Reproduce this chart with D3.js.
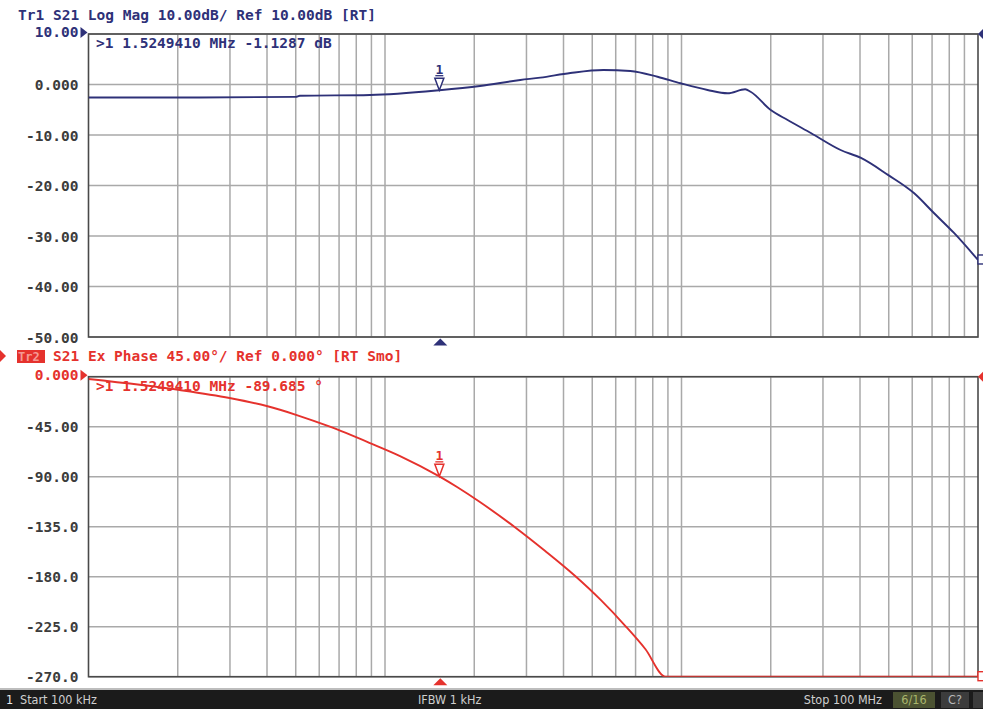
<!DOCTYPE html>
<html><head><meta charset="utf-8">
<script src="https://cdn.jsdelivr.net/npm/d3@7"></script>
<style>
body{margin:0;background:#fff;}
svg{display:block;}
.mono{font-family:"DejaVu Sans Mono",monospace;font-weight:bold;}
.bar{font-family:"DejaVu Sans Condensed","Liberation Sans Narrow","DejaVu Sans",sans-serif;font-stretch:condensed;}
</style></head><body>
<script>
// trace 1: S21 log mag (frequency in MHz, dB)
const magFreq = [0.1, 0.237, 0.5, 0.516, 0.89, 1.5249, 2.09, 2.86, 3.34, 4.22, 5.45, 6.72, 8.30, 9.93, 12.24, 14.3, 16.4, 17.1, 20.0, 22.8, 27.3, 34.4, 40.3, 49.7, 60.8, 71.0, 83.0, 100];
const magDb = [-2.57, -2.57, -2.45, -2.24, -2.08, -1.13, -0.3, 0.89, 1.35, 2.28, 2.87, 2.67, 1.54, 0.24, -1.09, -1.74, -0.95, -1.43, -5.05, -7.03, -9.6, -12.97, -14.55, -17.9, -21.5, -25.45, -29.4, -34.75];
// trace 2: S21 expanded phase (frequency in MHz, degrees)
const phFreq = [0.1, 0.203, 0.299, 0.399, 0.504, 0.652, 0.89, 1.124, 1.5249, 1.75, 2.09, 2.75, 3.47, 4.38, 5.33, 6.47, 7.55, 8.83, 100];
const phDeg = [-2.1, -12, -19.2, -26.4, -34.5, -45, -59.7, -71.4, -89.7, -99.3, -112.8, -135.7, -156.9, -179.4, -200.7, -224.4, -245.1, -270, -270];

const magTicks = [10, 0, -10, -20, -30, -40, -50];
const magTickLabels = ["10.00", "0.000", "-10.00", "-20.00", "-30.00", "-40.00", "-50.00"];
const phTicks = [0, -45, -90, -135, -180, -225, -270];
const phTickLabels = ["0.000", "-45.00", "-90.00", "-135.0", "-180.0", "-225.0", "-270.0"];

const markerFreq = 1.524941;
const markerMag = -1.1287;
const markerPh = -89.685;

const navy = "#2e3178", red = "#e5322d", grid = "#a9a9a9", frame = "#4a4a4a";

const svg = d3.select("body").append("svg").attr("width", 983).attr("height", 709);

const x = d3.scaleLog().domain([0.1, 100]).range([88.5, 978]);
const yMag = d3.scaleLinear().domain([-50, 10]).range([337, 34]);
const yPh = d3.scaleLinear().domain([-270, 0]).range([676.7, 376.7]);

const gridFreq = x.ticks().filter(f => f > 0.1 && f < 100);

function panel(y, ticks, labels, freq, vals, color, refColor, mVal, readout, clipId) {
	const top = y.range()[1], bot = y.range()[0];
	const g = svg.append("g");
	g.append("defs").append("clipPath").attr("id", clipId)
		.append("rect").attr("x", x(0.1)).attr("y", top).attr("width", x(100) - x(0.1)).attr("height", bot - top);
	g.selectAll(".vg").data(gridFreq).join("line")
		.attr("x1", d => x(d)).attr("x2", d => x(d)).attr("y1", top).attr("y2", bot)
		.attr("stroke", grid).attr("stroke-width", 1.5);
	g.selectAll(".hg").data(ticks).join("line")
		.attr("x1", x(0.1)).attr("x2", x(100)).attr("y1", d => y(d)).attr("y2", d => y(d))
		.attr("stroke", grid).attr("stroke-width", 1.5);
	g.append("rect").attr("x", x(0.1)).attr("y", top).attr("width", x(100) - x(0.1)).attr("height", bot - top)
		.attr("fill", "none").attr("stroke", frame).attr("stroke-width", 1.6);

	const ax = g.append("g").attr("transform", "translate(" + x(0.1) + ",0)")
		.call(d3.axisLeft(y).tickValues(ticks).tickFormat((d, i) => labels[i]).tickSize(0).tickPadding(10));
	ax.select(".domain").remove();
	ax.selectAll("text").attr("class", "mono").attr("font-size", 14.5).attr("fill", "#3c3c3c")
		.attr("dy", "0.35em");
	ax.selectAll("text").filter((d, i) => i === 0).attr("fill", refColor).attr("dy", "0.2em");

	// reference arrow on left
	g.append("path").attr("d", "M" + (x(0.1) - 8) + "," + (top - 7) + "l7,5.5l-7,5.5z").attr("fill", refColor);
	// right edge ref triangle
	g.append("path").attr("d", "M983," + (top - 5) + "l-5,5l5,5z").attr("fill", refColor);

	const line = d3.line().x((d, i) => x(freq[i])).y(d => y(d)).curve(d3.curveMonotoneX);
	g.append("path").datum(vals).attr("d", line).attr("clip-path", "url(#" + clipId + ")")
		.attr("fill", "none").attr("stroke", color).attr("stroke-width", 1.9);

	// marker readout
	g.append("text").attr("class", "mono").attr("x", 96).attr("y", top + 14).attr("font-size", 14.5)
		.attr("fill", color).text(readout);

	// marker 1 symbol
	const mx = x(markerFreq), my = y(mVal);
	g.append("path").attr("d", "M" + mx + "," + my + "l-4.5,-12h9z").attr("fill", "#fff")
		.attr("stroke", color).attr("stroke-width", 1.5);
	g.append("line").attr("x1", mx - 4).attr("x2", mx + 4).attr("y1", my - 14.5).attr("y2", my - 14.5)
		.attr("stroke", color).attr("stroke-width", 1.3);
	g.append("text").attr("class", "mono").attr("x", mx).attr("y", my - 16).attr("text-anchor", "middle")
		.attr("font-size", 13).attr("fill", color).text("1");
	// stimulus marker under panel
	g.append("path").attr("d", "M" + (mx + 1) + "," + (bot + 1.5) + "l7,7h-14z").attr("fill", color);
	// trace end marker
	const ey = y(vals[vals.length - 1]);
	g.append("rect").attr("x", 978).attr("y", ey - 5).attr("width", 6).attr("height", 9)
		.attr("fill", "#fff").attr("stroke", color).attr("stroke-width", 1.4);
}

panel(yMag, magTicks, magTickLabels, magFreq, magDb, navy, navy, markerMag,
	">1 1.5249410 MHz -1.1287 dB", "c1");
panel(yPh, phTicks, phTickLabels, phFreq, phDeg, red, red, markerPh,
	">1 1.5249410 MHz -89.685 °", "c2");

// channel headers
svg.append("text").attr("class", "mono").attr("x", 18).attr("y", 20).attr("font-size", 14.5)
	.attr("fill", navy).text("Tr1 S21 Log Mag 10.00dB/ Ref 10.00dB [RT]");
svg.append("path").attr("d", "M0,350l6,6l-6,6z").attr("fill", red);
svg.append("rect").attr("x", 17).attr("y", 350).attr("width", 28).attr("height", 13).attr("fill", red);
svg.append("text").attr("class", "mono").attr("x", 18).attr("y", 361).attr("font-size", 12)
	.attr("fill", "#f59a94").text("Tr2");
svg.append("text").attr("class", "mono").attr("x", 53).attr("y", 361).attr("font-size", 14.5)
	.attr("fill", red).text("S21 Ex Phase 45.00°/ Ref 0.000° [RT Smo]");

// status bar
svg.append("rect").attr("x", 0).attr("y", 688).attr("width", 983).attr("height", 2).attr("fill", "#bdbdbd");
svg.append("rect").attr("x", 0).attr("y", 690).attr("width", 983).attr("height", 19).attr("fill", "#1b1b1b");
const bar = svg.append("g").attr("class", "bar").attr("font-size", 12.5).attr("fill", "#cfcfcf");
bar.append("text").attr("x", 6).attr("y", 704).attr("fill", "#e8e8e8").text("1");
bar.append("text").attr("x", 20).attr("y", 704).text("Start 100 kHz");
bar.append("text").attr("x", 418).attr("y", 704).text("IFBW 1 kHz");
bar.append("text").attr("x", 882).attr("y", 704).attr("text-anchor", "end").text("Stop 100 MHz");
bar.append("rect").attr("x", 893).attr("y", 692).attr("width", 42).attr("height", 16).attr("fill", "#4b5232");
bar.append("text").attr("x", 914).attr("y", 704).attr("text-anchor", "middle").attr("fill", "#a9b56c").text("6/16");
bar.append("rect").attr("x", 941).attr("y", 692).attr("width", 28).attr("height", 16).attr("fill", "#3c3c3c");
bar.append("text").attr("x", 955).attr("y", 704).attr("text-anchor", "middle").attr("fill", "#b8b8b8").text("C?");
bar.append("rect").attr("x", 973).attr("y", 692).attr("width", 10).attr("height", 16).attr("fill", "#3c3c3c");
</script>
</body></html>
